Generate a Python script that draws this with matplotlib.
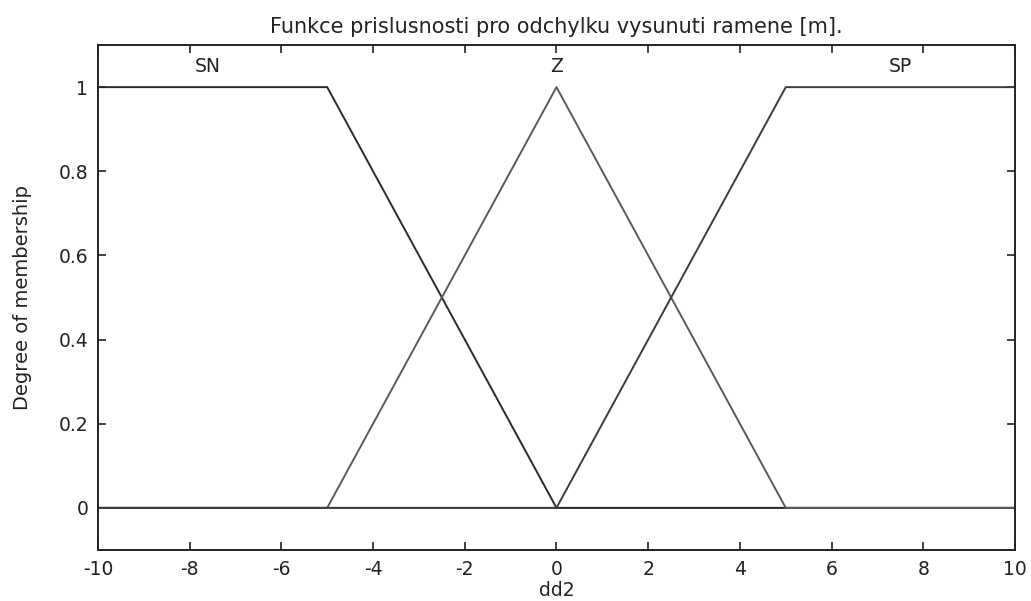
import numpy as np
import matplotlib
matplotlib.use("Agg")
import matplotlib.pyplot as plt

plt.rcParams['font.family'] = ['DejaVu Sans']

# membership functions for dd2 (trapmf / trimf / trapmf breakpoints)
mf_names = ['SN', 'Z', 'SP']
mf_x = [[-10, -5, 0], [-5, 0, 5], [0, 5, 10]]
mf_y = [[1, 1, 0], [0, 1, 0], [0, 1, 1]]
label_x = [-7.6, 0, 7.5]
line_colors = ['#2a2a2a', '#5a5a5a', '#3c3c3c']

x_range = [-10, 10]
xticks = [-10, -8, -6, -4, -2, 0, 2, 4, 6, 8, 10]
yticks = [0, 0.2, 0.4, 0.6, 0.8, 1]

fig = plt.figure(figsize=(10.31, 6.01), dpi=100)
ax = fig.add_axes([0.095, 0.085, 0.8895, 0.84])

# zero line drawn by each mf outside its support
ax.plot(x_range, [0, 0], color='#7a7a7a', lw=1.4)
for name, xs, ys, lx, c in zip(mf_names, mf_x, mf_y, label_x, line_colors):
    xx = [x_range[0]] + xs + [x_range[1]]
    yy = [ys[0]] + ys + [ys[-1]]
    ax.plot(xx, yy, color=c, lw=1.4)
    ax.text(lx, 1.05, name, ha='center', va='center', fontsize=13.5, color='#222222')

ax.set_xlim(x_range)
ax.set_ylim(-0.1, 1.1)
ax.set_xticks(xticks)
ax.set_xticklabels([str(t) for t in xticks])
ax.set_yticks(yticks)
ax.set_yticklabels(['0', '0.2', '0.4', '0.6', '0.8', '1'])
ax.tick_params(direction='in', length=6, width=1.2, labelsize=13.5, top=True, right=True,
               pad=7, colors='#222222')
for s in ax.spines.values():
    s.set_linewidth(1.4)
    s.set_color('#222222')

ax.set_title('Funkce prislusnosti pro odchylku vysunuti ramene [m].', fontsize=15, pad=9,
             color='#222222')
ax.set_xlabel('dd2', fontsize=13.5, labelpad=2, color='#222222')
ax.set_ylabel('Degree of membership', fontsize=14, labelpad=19, color='#222222')

fig.savefig('out.png', dpi=100)
